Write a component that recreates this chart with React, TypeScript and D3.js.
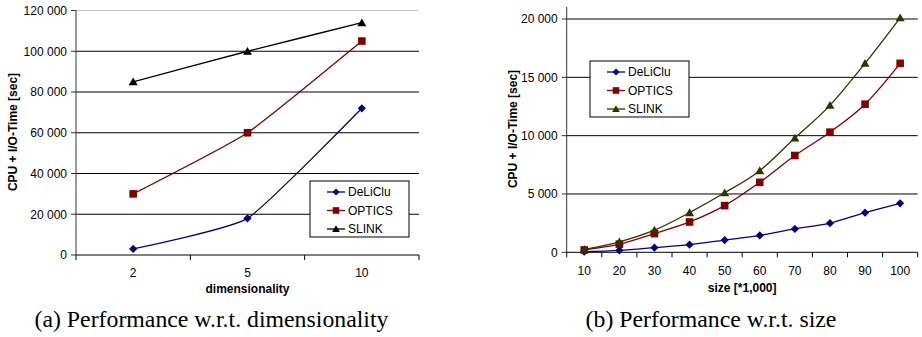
import React from "react";
import * as d3 from "d3";

const dimCategories = ["2", "5", "10"];
const dimDeLiClu = [3000, 18000, 72000];
const dimOptics = [30000, 60000, 105000];
const dimSlink = [85000, 100000, 114000];
const dimTicks = [0, 20000, 40000, 60000, 80000, 100000, 120000];

const sizeCategories = ["10", "20", "30", "40", "50", "60", "70", "80", "90", "100"];
const sizeDeLiClu = [50, 170, 400, 650, 1050, 1450, 2000, 2500, 3400, 4200];
const sizeOptics = [200, 700, 1600, 2600, 4000, 6000, 8300, 10300, 12700, 16200];
const sizeSlink = [250, 900, 1900, 3400, 5100, 7000, 9800, 12600, 16200, 20100];
const sizeTicks = [0, 5000, 10000, 15000, 20000];

const seriesNames = ["DeLiClu", "OPTICS", "SLINK"];
const yTitle = "CPU + I/O-Time [sec]";

const fmt = d3
  .formatLocale({ thousands: "\u00a0", grouping: [3], decimal: ".", currency: ["", ""] })
  .format(",");

const SANS = "'Liberation Sans', Arial, sans-serif";
const SERIF = "'Liberation Serif', 'Times New Roman', serif";

type Marker = "diamond" | "square" | "triangle";

function markerPath(kind: Marker, s: number): string {
  if (kind === "diamond") return `M0,${-s}L${s},0L0,${s}L${-s},0Z`;
  if (kind === "square") return `M${-s},${-s}H${s}V${s}H${-s}Z`;
  return `M0,${-s * 1.05}L${s * 1.1},${s * 0.85}L${-s * 1.1},${s * 0.85}Z`;
}

interface PanelProps {
  categories: string[];
  series: number[][];
  colors: string[];
  markers: Marker[];
  ticks: number[];
  yMax: number;
  left: number;
  right: number;
  top: number;
  bottom: number;
  yTitleX: number;
  yTitleY: number;
  xLabel: string;
  xLabelY: number;
  tickLabelY: number;
  legendX: number;
  legendY: number;
  topLineColor: string;
  tension: number;
}

function Panel(p: PanelProps) {
  const x = d3.scaleBand<string>().domain(p.categories).range([p.left, p.right]).padding(0);
  const y = d3.scaleLinear().domain([0, p.yMax]).range([p.bottom, p.top]);
  const cx = (c: string) => (x(c) as number) + x.bandwidth() / 2;
  const line = d3
    .line<number>()
    .x((_, i) => cx(p.categories[i]))
    .y((v) => y(v))
    .curve(d3.curveCardinal.tension(p.tension));
  const bounds = p.categories.map((c) => x(c) as number).concat([p.right]);
  const legendW = 99;
  const legendH = 56;
  return (
    <g>
      {p.ticks.map((t) =>
        t === 0 ? null : (
          <line
            key={"g" + t}
            x1={p.left}
            x2={p.right}
            y1={y(t)}
            y2={y(t)}
            stroke={y(t) - p.top < 2 ? p.topLineColor : "#000"}
            strokeWidth={1}
          />
        )
      )}
      <line x1={p.left} x2={p.left} y1={p.top} y2={p.bottom} stroke="#333" strokeWidth={1} />
      {p.ticks.map((t) => (
        <g key={"t" + t}>
          <line x1={p.left - 5} x2={p.left} y1={y(t)} y2={y(t)} stroke="#333" />
          <text
            x={p.left - 9}
            y={y(t)}
            dy="0.36em"
            textAnchor="end"
            fontFamily={SANS}
            fontSize={12}
            fill="#000"
          >
            {fmt(t)}
          </text>
        </g>
      ))}
      <line x1={p.left} x2={p.right} y1={p.bottom} y2={p.bottom} stroke="#000" strokeWidth={1} />
      {bounds.map((b, i) => (
        <line key={"xb" + i} x1={b} x2={b} y1={p.bottom} y2={p.bottom + 5} stroke="#000" />
      ))}
      {p.categories.map((c) => (
        <text
          key={"xl" + c}
          x={cx(c)}
          y={p.tickLabelY}
          textAnchor="middle"
          fontFamily={SANS}
          fontSize={12}
          fill="#000"
        >
          {c}
        </text>
      ))}
      <text
        x={(p.left + p.right) / 2}
        y={p.xLabelY}
        textAnchor="middle"
        fontFamily={SANS}
        fontSize={12}
        fontWeight="bold"
        fill="#000"
      >
        {p.xLabel}
      </text>
      <text
        transform={`translate(${p.yTitleX},${p.yTitleY}) rotate(-90)`}
        textAnchor="middle"
        fontFamily={SANS}
        fontSize={12}
        fontWeight="bold"
        fill="#000"
      >
        {yTitle}
      </text>
      {p.series.map((vals, si) => (
        <g key={"s" + si}>
          <path d={line(vals) || ""} fill="none" stroke={p.colors[si]} strokeWidth={1.3} />
          {vals.map((v, i) => (
            <path
              key={i}
              d={markerPath(p.markers[si], p.markers[si] === "square" ? 3.8 : 4.1)}
              transform={`translate(${cx(p.categories[i])},${y(v)})`}
              fill={p.colors[si]}
            />
          ))}
        </g>
      ))}
      <rect
        x={p.legendX}
        y={p.legendY}
        width={legendW}
        height={legendH}
        fill="#fff"
        stroke="#000"
        strokeWidth={1}
      />
      {seriesNames.map((n, i) => {
        const ly = p.legendY + 11 + i * 18.5;
        const lx = p.legendX + 17;
        return (
          <g key={"lg" + n}>
            <line x1={lx} x2={lx + 18} y1={ly} y2={ly} stroke={p.colors[i]} strokeWidth={1.3} />
            <path
              d={markerPath(p.markers[i], p.markers[i] === "square" ? 3.3 : 3.5)}
              transform={`translate(${lx + 9},${ly})`}
              fill={p.colors[i]}
            />
            <text x={lx + 21} y={ly} dy="0.36em" fontFamily={SANS} fontSize={12} fill="#000">
              {n}
            </text>
          </g>
        );
      })}
    </g>
  );
}

export default function App() {
  return (
    <svg
      width={922}
      height={337}
      style={{ position: "absolute", left: 0, top: 0, background: "#fff" }}
    >
      <rect width={922} height={337} fill="#fff" />
      <Panel
        categories={dimCategories}
        series={[dimDeLiClu, dimOptics, dimSlink]}
        colors={["#000080", "#800000", "#000000"]}
        markers={["diamond", "square", "triangle"]}
        ticks={dimTicks}
        yMax={120000}
        left={76}
        right={419}
        top={10.5}
        bottom={255}
        yTitleX={17}
        yTitleY={132}
        xLabel="dimensionality"
        xLabelY={293}
        tickLabelY={277}
        legendX={310}
        legendY={181}
        topLineColor="#c8c8c8"
        tension={0.55}
      />
      <Panel
        categories={sizeCategories}
        series={[sizeDeLiClu, sizeOptics, sizeSlink]}
        colors={["#000080", "#800000", "#333300"]}
        markers={["diamond", "square", "triangle"]}
        ticks={sizeTicks}
        yMax={21030}
        left={566.7}
        right={917.7}
        top={7}
        bottom={252.3}
        yTitleX={517}
        yTitleY={129}
        xLabel="size [*1,000]"
        xLabelY={291.5}
        tickLabelY={275.3}
        legendX={590}
        legendY={61}
        topLineColor="#000"
        tension={0}
      />
      <text x={211.5} y={327} textAnchor="middle" fontFamily={SERIF} fontSize={23.8} fill="#000">
        (a) Performance w.r.t. dimensionality
      </text>
      <text x={711} y={327} textAnchor="middle" fontFamily={SERIF} fontSize={23.8} fill="#000">
        (b) Performance w.r.t. size
      </text>
    </svg>
  );
}
